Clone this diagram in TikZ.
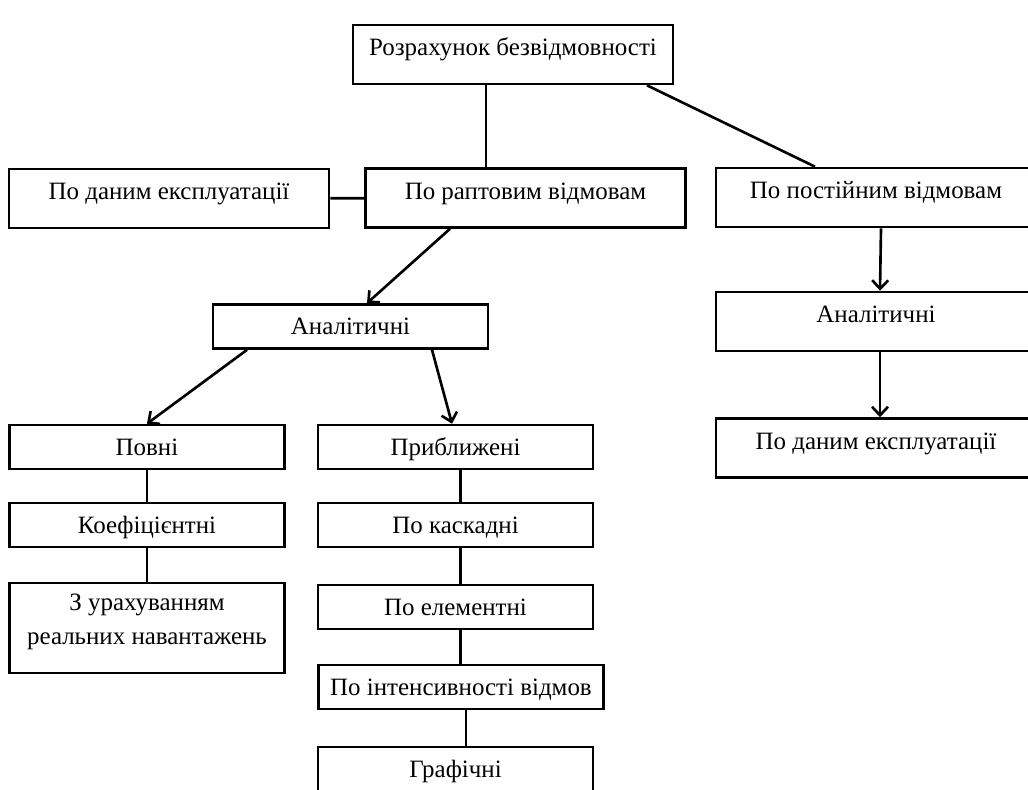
\documentclass[tikz,border=0pt]{standalone}
\usepackage{fontspec}
\setmainfont{Liberation Serif}
\usetikzlibrary{arrows.meta}

\begin{document}
\begin{tikzpicture}[x=0.02cm,y=-0.02cm,line width=1.5pt,
    font=\fontsize{14.2}{16}\selectfont,
    box/.style={draw,inner sep=0pt,minimum width=5.5cm,minimum height=0.88cm,
        text height=0.36cm,text depth=0.03cm},
    tall/.style={box,minimum width=6.4cm,minimum height=1.18cm,text depth=0.31cm},
    arr/.style={-{Straight Barb[length=1.7mm,width=3.2mm]}}]
    \path[use as bounding box,clip] (0,0) rectangle (1028,789);
    %top level
    \node[tall] (root) at (513,54.5) {Розрахунок безвідмовності};
    \node[tall] (exp) at (169,198.5) {По даним експлуатації};
    \node[tall] (sud) at (525.5,198) {По раптовим відмовам};
    \node[tall] (const) at (876,197.5) {По постійним відмовам};
    %sudden failures branch
    \node[box] (anl) at (350.5,326.5) {Аналітичні};
    \node[box] (full) at (147,447) {Повні};
    \node[box] (coef) at (147,525) {Коефіцієнтні};
    \node[box,align=center,minimum height=1.8cm,text height=0.67cm,text depth=0.02cm,
        font=\fontsize{14.2}{19}\selectfont] (loads) at (147,628)
        {З урахуванням\\реальних навантажень};
    \node[box] (appr) at (455.5,447) {Приближені};
    \node[box] (casc) at (455.5,525) {По каскадні};
    \node[box] (elem) at (455.5,607) {По елементні};
    \node[box,minimum width=5.7cm] (intens) at (461,687) {По інтенсивності відмов};
    \node[box] (graph) at (455.5,769) {Графічні};
    %constant failures branch
    \node[tall] (anr) at (876,321.5) {Аналітичні};
    \node[tall] (expr) at (876,448) {По даним експлуатації};

    \draw ([xshift=-0.54cm]root.south) -- ([xshift=-0.54cm]root.south |- sud.north);
    \draw ([xshift=2.68cm]root.south) -- ([xshift=-1.22cm]const.north);
    \draw (exp) -- (sud);
    \draw[arr] ([xshift=-1.51cm]sud.south) -- ([xshift=0.33cm]anl.north);
    \draw[arr] ([xshift=-2.07cm]anl.south) -- (full.north);
    \draw[arr] ([xshift=1.63cm]anl.south) -- ([xshift=-0.07cm]appr.north);
    \draw (full) -- (coef) (coef) -- (loads);
    \foreach \a/\b in {appr/casc,casc/elem,elem/intens,intens/graph}
        \draw ([xshift=0.1cm]\a.south) -- ([xshift=0.1cm]\a.south |- \b.north);
    \draw[arr] ([xshift=0.1cm]const.south) -- ([xshift=0.08cm]anr.north);
    \draw[arr] ([xshift=0.08cm]anr.south) -- ([xshift=0.08cm]expr.north);
\end{tikzpicture}
\end{document}
